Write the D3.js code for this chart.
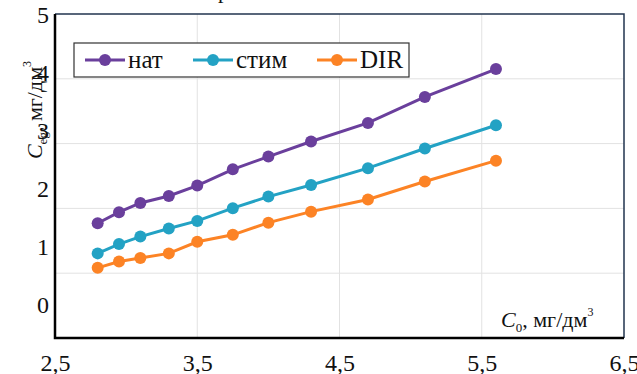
<!DOCTYPE html>
<html>
<head>
<meta charset="utf-8">
<script src="https://cdn.jsdelivr.net/npm/d3@7"></script>
<style>
  body { margin: 0; background: #fff; }
</style>
</head>
<body>
<svg id="chart"></svg>
<script>
// Data
const c0 = [2.8, 2.95, 3.1, 3.3, 3.5, 3.75, 4.0, 4.3, 4.7, 5.1, 5.6];
const nat = [1.41, 1.6, 1.76, 1.88, 2.06, 2.34, 2.56, 2.82, 3.14, 3.59, 4.07];
const stim = [0.89, 1.05, 1.18, 1.32, 1.45, 1.67, 1.87, 2.07, 2.36, 2.7, 3.1];
const dir = [0.64, 0.75, 0.81, 0.89, 1.09, 1.21, 1.42, 1.61, 1.82, 2.13, 2.49];
const seriesNames = ["нат", "стим", "DIR"];
const xTicks = [2.5, 3.5, 4.5, 5.5, 6.5];
const yTicks = [0, 1, 2, 3, 4, 5];

const colors = ["#6a3f9c", "#23a2c4", "#fc8325"];
const series = [nat, stim, dir].map((vals, i) => ({
  name: seriesNames[i],
  color: colors[i],
  points: vals.map((v, j) => ({ x: c0[j], y: v }))
}));

const width = 637, height = 374;
const plot = { left: 55, right: 624, top: 14, bottom: 338 };
const fontName = "Liberation Serif";

const svg = d3.select("#chart").attr("width", width).attr("height", height)
  .style("font-family", fontName);

const x = d3.scaleLinear().domain([2.5, 6.5]).range([plot.left, plot.right]);
const y = d3.scaleLinear().domain([-0.57, 5.02]).range([plot.bottom, plot.top]);

// grid
svg.append("g")
  .selectAll("line")
  .data(xTicks.slice(1, -1))
  .enter()
  .append("line")
  .attr("x1", (d) => x(d)).attr("x2", (d) => x(d))
  .attr("y1", plot.top).attr("y2", plot.bottom)
  .attr("stroke", "#e2e2e2").attr("stroke-width", 1);

const [y0, y1] = y.domain();
svg.append("g")
  .selectAll("line")
  .data(d3.range(1, 5).map((i) => y0 + (i * (y1 - y0)) / 5))
  .enter()
  .append("line")
  .attr("x1", plot.left).attr("x2", plot.right)
  .attr("y1", (d) => y(d)).attr("y2", (d) => y(d))
  .attr("stroke", "#e2e2e2").attr("stroke-width", 1);

// top / right frame
svg.append("path")
  .attr("d", `M${plot.left},${plot.top}H${plot.right}V${plot.bottom}`)
  .attr("fill", "none").attr("stroke", "#22344f").attr("stroke-width", 1.5);

// cut-off title descender
svg.append("text").attr("x", 218).attr("y", -2)
  .style("font-family", fontName).style("font-size", "22px").attr("fill", "#111")
  .append("tspan").text("р");

// put tick label text inside a tspan
function serifTicks(g) {
  g.attr("font-family", null).attr("font-size", null);
  g.select(".domain").remove();
  g.selectAll("text").each(function () {
    const t = d3.select(this);
    const label = t.text();
    t.text(null)
      .style("font-family", fontName).style("font-size", "24px").attr("fill", "#111");
    t.append("tspan").text(label);
  });
}

// axes
svg.append("g")
  .attr("transform", `translate(0,${plot.bottom})`)
  .call(d3.axisBottom(x).tickValues(xTicks).tickSize(0).tickPadding(16)
    .tickFormat((d) => d3.format(".1f")(d).replace(".", ",")))
  .call(serifTicks);

svg.append("g")
  .attr("transform", `translate(${plot.left},0)`)
  .call(d3.axisLeft(y).tickValues(yTicks).tickSize(0).tickPadding(6)
    .tickFormat(d3.format("d")))
  .call(serifTicks);

svg.append("path")
  .attr("d", `M${plot.left},${plot.top}V${plot.bottom}H${plot.right}`)
  .attr("fill", "none").attr("stroke", "#000").attr("stroke-width", 2.5);

// lines and markers
const line = d3.line().x((d) => x(d.x)).y((d) => y(d.y));
series.forEach((s) => {
  svg.append("path")
    .datum(s.points)
    .attr("d", line)
    .attr("fill", "none")
    .attr("stroke", s.color)
    .attr("stroke-width", 3);
  svg.append("g")
    .selectAll("circle")
    .data(s.points)
    .enter()
    .append("circle")
    .attr("cx", (d) => x(d.x))
    .attr("cy", (d) => y(d.y))
    .attr("r", 6)
    .attr("fill", s.color);
});

// legend
const legend = svg.append("g");
legend.append("rect")
  .attr("x", 74).attr("y", 43).attr("width", 335).attr("height", 34)
  .attr("fill", "#fff").attr("stroke", "#333").attr("stroke-width", 1.2);
const legendX = [85, 193, 317];
series.forEach((s, i) => {
  const lx = legendX[i];
  legend.append("line")
    .attr("x1", lx).attr("x2", lx + 40).attr("y1", 60).attr("y2", 60)
    .attr("stroke", s.color).attr("stroke-width", 3);
  legend.append("circle").attr("cx", lx + 20).attr("cy", 60).attr("r", 6).attr("fill", s.color);
  legend.append("text")
    .attr("x", lx + 43).attr("y", 68)
    .style("font-family", fontName).style("font-size", "25px").attr("fill", "#111")
    .append("tspan").text(s.name);
});

// axis titles
const xt = svg.append("text").attr("x", 501).attr("y", 327)
  .style("font-family", fontName).style("font-size", "22px").attr("fill", "#111");
xt.append("tspan").attr("font-style", "italic").text("C");
xt.append("tspan").attr("font-size", 13).attr("dy", 5).text("0");
xt.append("tspan").attr("dy", -5).text(", мг/дм");
xt.append("tspan").attr("font-size", 12).attr("dy", -11).text("3");

const yt = svg.append("text")
  .attr("transform", "translate(42,110) rotate(-90)")
  .attr("text-anchor", "middle")
  .style("font-family", fontName).style("font-size", "22px").attr("fill", "#111");
yt.append("tspan").attr("font-style", "italic").text("C");
yt.append("tspan").attr("font-size", 13).attr("dy", 5).text("eg");
yt.append("tspan").attr("dy", -5).text(", мг/дм");
yt.append("tspan").attr("font-size", 12).attr("dy", -11).text("3");
</script>
</body>
</html>
